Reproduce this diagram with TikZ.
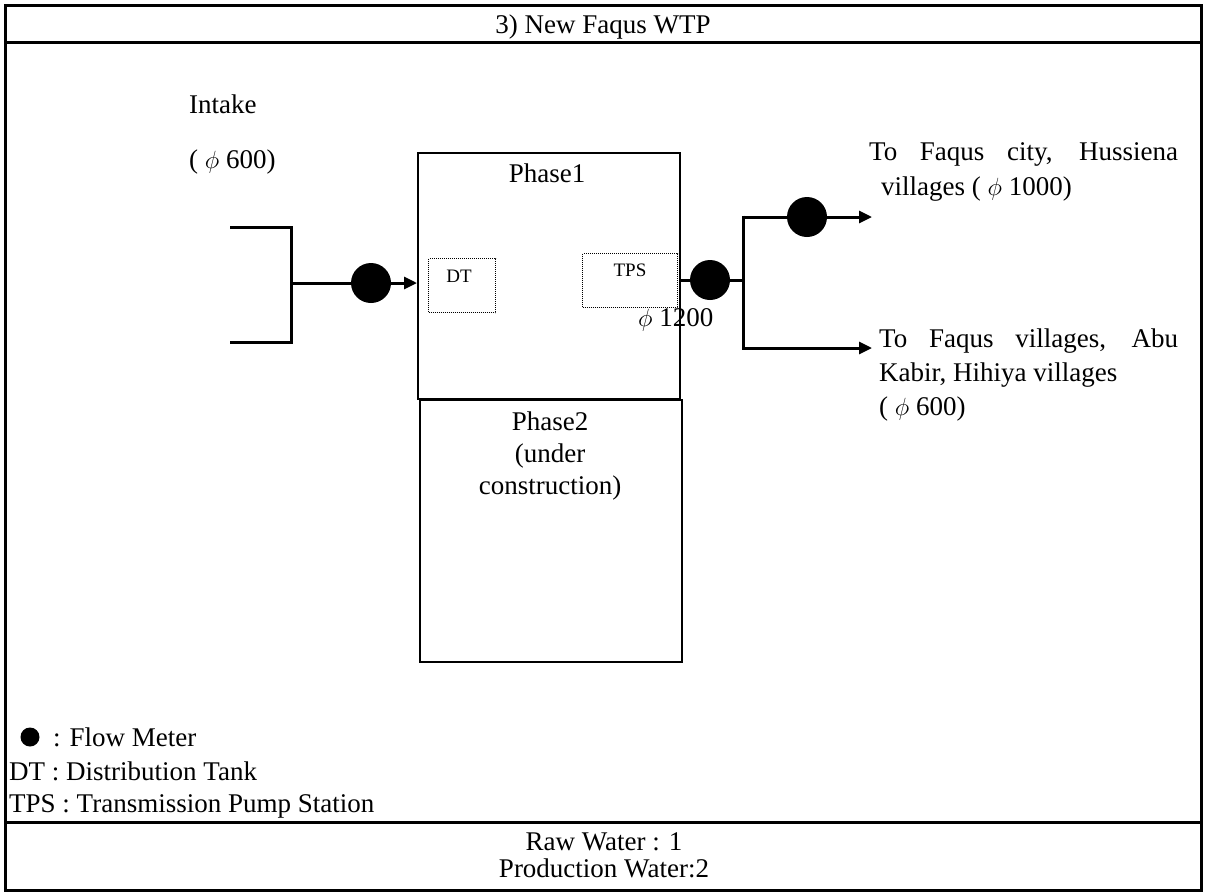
\documentclass[tikz,border=0pt]{standalone}
\usepackage{fontspec}
\setmainfont{Liberation Serif}
\usetikzlibrary{arrows.meta}
\begin{document}
\begin{tikzpicture}[x=1pt,y=-1pt,
  txt/.style={inner sep=0pt,anchor=base west,font=\fontsize{27}{34}\selectfont},
  ctxt/.style={inner sep=0pt,anchor=base,font=\fontsize{27}{34}\selectfont},
  smalltxt/.style={inner sep=0pt,anchor=base,font=\fontsize{19}{22}\selectfont},
  pipe/.style={line width=3pt,line join=miter},
  arr/.style={pipe,-{Triangle[length=13pt,width=12pt]}},
  meter/.style={circle,fill=black,minimum size=40pt,inner sep=0pt},
  boxl/.style={draw,line width=1.6pt,inner sep=0pt,anchor=north west},
  dotbox/.style={draw,densely dotted,line width=1pt,inner sep=0pt,anchor=north west},
  frame/.style={line width=3pt}
]
\useasboundingbox (0,0) rectangle (1206,892);
% frame
\draw[frame] (5,5) rectangle (1201,890);
\draw[frame] (5,42) -- (1201,42);
\draw[frame] (5,822) -- (1201,822);
\node[ctxt] (title) at (603,33) {3) New Faqus WTP};
% boxes
\node[boxl,minimum width=262pt,minimum height=246pt] (p1) at (417,152) {};
\node[boxl,minimum width=262pt,minimum height=262pt] (p2) at (419,399) {};
\node[dotbox,minimum width=67pt,minimum height=54pt] (dt) at (428,258) {};
\node[dotbox,minimum width=95pt,minimum height=54pt] (tps) at (582,253) {};
\node[ctxt] (ph1) at (547,182) {Phase1};
\node[ctxt] (ph2a) at (550,430) {Phase2};
\node[ctxt] (ph2b) at (550,462) {(under};
\node[ctxt] (ph2c) at (550,494) {construction)};
\node[smalltxt] (dtl) at (459,282) {DT};
\node[smalltxt] (tpsl) at (630,276) {TPS};
% intake
\node[txt] (intake) at (189,113) {Intake};
\node[txt] (intakedia) at (189,168) {( $\phi$ 600)};
\coordinate (a1) at (230,227);
\coordinate (a2) at (291,227);
\coordinate (a3) at (291,342);
\coordinate (a4) at (230,342);
\coordinate (j1) at (291,283);
\node[meter] (m1) at (371,283) {};
\draw[pipe] (a1) -- (a2) -- (a3) -- (a4);
\draw[pipe] (j1) -- (m1);
\draw[arr] (m1) -- (p1.west |- m1);
% outlet
\node[meter] (m2) at (710,280) {};
\node[meter] (m3) at (807,217) {};
\coordinate (j2) at (743,280);
\coordinate (vt) at (743,215.5);
\coordinate (vb) at (743,349.5);
\coordinate (t1) at (872,217);
\coordinate (t2) at (872,348);
\draw[pipe] (p1.east |- m2) -- (m2);
\draw[pipe] (m2) -- (j2);
\draw[pipe] (vt) -- (vb);
\draw[pipe] (vt |- m3) -- (m3);
\draw[arr] (m3) -- (t1);
\draw[arr] (vb |- t2) -- (t2);
\node[txt] (d1200) at (638,326) {$\phi$ 1200};
\node[txt] (out1a) at (869,160) {\makebox[309pt][s]{To Faqus city, Hussiena}};
\node[txt] (out1b) at (881,195) {villages ( $\phi$ 1000)};
\node[txt] (out2a) at (879,347) {\makebox[299pt][s]{To Faqus villages, Abu}};
\node[txt] (out2b) at (879,381) {Kabir, Hihiya villages};
\node[txt] (out2c) at (879,415) {( $\phi$ 600)};
% legend
\node[circle,fill=black,minimum size=19pt,inner sep=0pt] (lg) at (30,737) {};
\node[txt] (lg1) at (53,746) {: Flow Meter};
\node[txt] (lg2) at (9,780) {DT : Distribution Tank};
\node[txt] (lg3) at (9,812) {TPS : Transmission Pump Station};
% bottom
\node[ctxt] (raw) at (604,850) {Raw Water : 1};
\node[ctxt] (prod) at (604,877) {Production Water:2};
\end{tikzpicture}
\end{document}
